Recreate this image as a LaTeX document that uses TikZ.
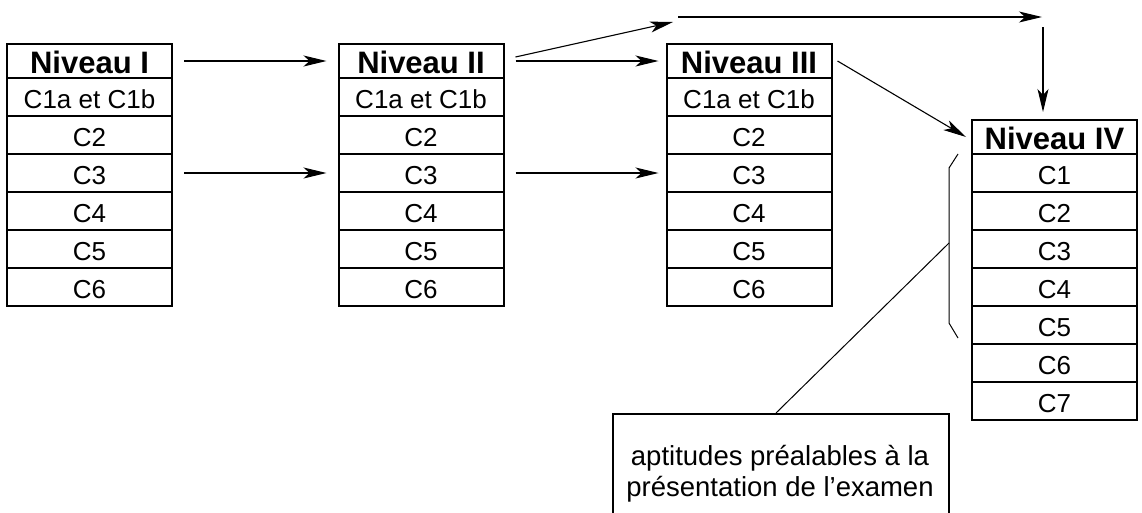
\documentclass[tikz,border=0pt]{standalone}
\usepackage{fontspec}
\setmainfont{Liberation Sans}
\usetikzlibrary{arrows.meta}
\begin{document}
\begin{tikzpicture}[x=1pt,y=-1pt,
  cell/.style={draw, line width=2pt, minimum width=165pt, minimum height=38pt, inner sep=0pt, text height=22pt, text depth=0pt, font=\fontsize{26}{30}\selectfont},
  hdr/.style={cell, minimum height=34pt, text height=24pt, font=\fontsize{31}{34}\selectfont\bfseries},
  arr/.style={line width=1.1pt, -{Stealth[length=23pt,width=11pt,inset=6pt]}},
  thinline/.style={line width=1pt},
  notebox/.style={draw, line width=2pt, minimum width=336pt, minimum height=140pt, anchor=north west, inner sep=0pt},
  notetext/.style={align=center, font=\fontsize{27.5}{31}\selectfont}]
\useasboundingbox (0,0) rectangle (1142,512);
% tables I-III
\foreach \n/\x/\t in {a/89.5/I, b/421/II, c/749/III} {
  \node[hdr] (\n-h) at (\x,61) {Niveau \t};
  \foreach \lab [count=\i] in {C1a et C1b, C2, C3, C4, C5, C6} {
    \node[cell] (\n-\i) at (\x,{59+38*\i}) {\lab};
  }
}
% table IV
\node[hdr] (d-h) at (1054.5,137) {Niveau IV};
\foreach \lab [count=\i] in {C1, C2, C3, C4, C5, C6, C7} {
  \node[cell] (d-\i) at (1054.5,{135+38*\i}) {\lab};
}
% arrows
\draw[arr] ([xshift=11pt]a-h.east) -- ([xshift=-11pt]b-h.west);
\draw[arr] ([xshift=11pt]a-3.east) -- ([xshift=-11pt]b-3.west);
\draw[arr] ([xshift=11pt]b-h.east) -- ([xshift=-7pt]c-h.west);
\draw[arr] ([xshift=11pt]b-3.east) -- ([xshift=-7pt]c-3.west);
\coordinate (t1) at (673,22);
\coordinate (t2) at (678,17);
\coordinate (t3) at (1042,17);
\coordinate (t4) at (1043,27);
\coordinate (t5) at (1043,112);
\draw[arr] ([shift={(11pt,4pt)}]b-h.east) -- (t1);
\draw[arr] (t2) -- (t3);
\draw[arr] (t4) -- (t5);
\draw[arr] ([xshift=5pt]c-h.east) -- ([xshift=-5pt]d-h.west);
% bracket
\coordinate (k1) at (958,154);
\coordinate (k2) at (949,168);
\coordinate (k3) at (949,323);
\coordinate (k4) at (958,338);
\coordinate (bm) at (949,243);
\draw[thinline] (k1) -- (k2) -- (k3) -- (k4);
% note
\node[notebox] (note) at (612,413) {};
\node[notetext] (notetxt) at (780,474) {aptitudes préalables à la\\présentation de l’examen};
\draw[thinline] (bm) -- ([xshift=-5pt]note.north);
\end{tikzpicture}
\end{document}
